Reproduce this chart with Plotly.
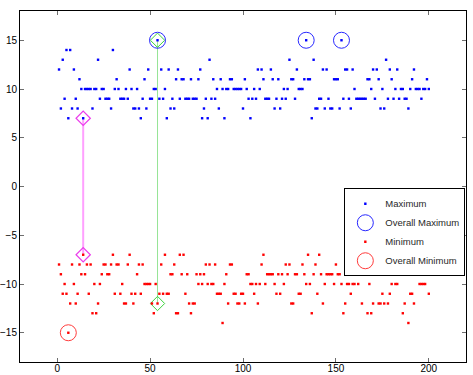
import plotly.graph_objects as go

# x positions 1..200
x_vals = list(range(1, 201))

max_vals = [
    12, 8, 13, 9, 14, 7, 14, 8, 12, 9,      # 1-10
    8, 11, 10, 7, 10, 10, 10, 10, 8, 10,    # 11-20
    10, 13, 9, 10, 10, 9, 9, 9, 8, 14,      # 21-30
    10, 11, 10, 9, 9, 9, 10, 9, 12, 10,     # 31-40
    8, 8, 10, 8, 7, 9, 11, 8, 12, 9,        # 41-50
    9, 10, 10, 15, 9, 12, 9, 10, 7, 12,     # 51-60
    8, 9, 8, 11, 12, 9, 11, 11, 9, 9,       # 61-70
    9, 11, 9, 9, 9, 11, 12, 7, 8, 9,        # 71-80
    7, 13, 9, 11, 9, 10, 8, 11, 10, 7,      # 81-90
    10, 10, 11, 11, 10, 10, 10, 10, 10, 8,  # 91-100
    11, 10, 9, 7, 9, 10, 9, 12, 10, 12,     # 101-110
    11, 9, 9, 9, 12, 11, 8, 9, 11, 8,       # 111-120
    9, 10, 9, 10, 13, 11, 11, 9, 12, 10,    # 121-130
    10, 10, 11, 15, 11, 11, 7, 13, 8, 8,    # 131-140
    9, 9, 12, 8, 12, 9, 8, 8, 11, 11,       # 141-150
    11, 8, 15, 9, 12, 12, 9, 8, 12, 10,     # 151-160
    9, 9, 9, 9, 9, 9, 11, 11, 10, 12,       # 161-170
    9, 12, 11, 8, 10, 8, 13, 9, 12, 11,     # 171-180
    9, 10, 12, 9, 10, 10, 9, 9, 8, 10,      # 181-190
    11, 12, 10, 10, 10, 9, 10, 10, 11, 10,  # 191-200
]

min_vals = [
    -8, -9, -11, -10, -11, -15, -12, -8, -10, -12,   # 1-10
    -11, -8, -9, -7, -9, -8, -11, -8, -13, -10,      # 11-20
    -13, -12, -10, -9, -8, -8, -9, -9, -8, -7,       # 21-30
    -11, -8, -8, -11, -10, -12, -12, -8, -7, -11,    # 31-40
    -12, -11, -9, -8, -11, -8, -10, -10, -10, -10,   # 41-50
    -12, -13, -10, -12, -11, -8, -11, -7, -11, -11,  # 51-60
    -9, -9, -8, -13, -13, -7, -9, -7, -11, -9,       # 61-70
    -12, -13, -12, -12, -9, -10, -9, -10, -9, -8,    # 71-80
    -10, -8, -10, -10, -8, -11, -11, -11, -14, -10,  # 81-90
    -9, -12, -8, -8, -11, -11, -12, -12, -11, -11,   # 91-100
    -12, -9, -9, -10, -10, -11, -10, -12, -10, -8,   # 101-110
    -7, -10, -9, -9, -9, -9, -10, -11, -9, -11,      # 111-120
    -9, -10, -8, -9, -8, -12, -12, -9, -9, -11,      # 121-130
    -11, -8, -9, -10, -7, -10, -13, -9, -8, -11,     # 131-140
    -7, -9, -12, -10, -9, -9, -9, -9, -10, -8,       # 141-150
    -9, -9, -10, -13, -12, -10, -10, -11, -10, -10,  # 151-160
    -8, -10, -9, -12, -9, -9, -13, -10, -13, -12,    # 161-170
    -8, -7, -12, -12, -11, -12, -9, -12, -11, -10,   # 171-180
    -7, -10, -10, -8, -7, -13, -12, -9, -14, -11,    # 181-190
    -11, -12, -9, -7, -10, -10, -10, -10, -7, -11,   # 191-200
]

overall_max_x = [54, 134, 153]
overall_max_y = [15, 15, 15]
overall_min_x = [6]
overall_min_y = [-15]

narrow_x = [14, 14]
narrow_y = [7, -7]
wide_x = [54, 54]
wide_y = [15, -12]

x_ticks = [0, 50, 100, 150, 200]
y_ticks = [-15, -10, -5, 0, 5, 10, 15]

fig = go.Figure()

fig.add_trace(go.Scatter(
    x=wide_x, y=wide_y, mode="lines+markers", showlegend=False,
    line=dict(color="rgb(150,228,150)", width=1),
    marker=dict(symbol="diamond-open", size=11, color="rgb(60,210,60)", line=dict(width=1)),
    hoverinfo="skip"))
fig.add_trace(go.Scatter(
    x=narrow_x, y=narrow_y, mode="lines+markers", showlegend=False,
    line=dict(color="rgb(255,160,255)", width=2),
    marker=dict(symbol="diamond-open", size=11, color="rgb(235,60,235)", line=dict(width=1.2)),
    hoverinfo="skip"))

fig.add_trace(go.Scatter(
    x=x_vals, y=max_vals, mode="markers", name="Maximum",
    marker=dict(symbol="square", size=2.4, color="rgb(0,0,255)")))
fig.add_trace(go.Scatter(
    x=overall_max_x, y=overall_max_y, mode="markers", name="Overall Maximum",
    marker=dict(symbol="circle-open", size=16, color="rgb(40,40,255)", line=dict(width=1))))
fig.add_trace(go.Scatter(
    x=x_vals, y=min_vals, mode="markers", name="Minimum",
    marker=dict(symbol="square", size=2.4, color="rgb(255,0,0)")))
fig.add_trace(go.Scatter(
    x=overall_min_x, y=overall_min_y, mode="markers", name="Overall Minimum",
    marker=dict(symbol="circle-open", size=16, color="rgb(255,60,60)", line=dict(width=1))))

axis_common = dict(
    showgrid=False, zeroline=False, showline=True, linecolor="black", linewidth=1,
    mirror="ticks", ticks="inside", ticklen=4, tickcolor="rgb(110,110,110)",
    automargin=False,
    tickfont=dict(family="Liberation Sans, Arial, sans-serif", size=10, color="black"),
)

fig.update_layout(
    width=473, height=375,
    margin=dict(l=20, r=7, t=11, b=13, pad=0),
    paper_bgcolor="white", plot_bgcolor="white",
    showlegend=True,
    legend=dict(
        x=0.9985, y=0.495, xanchor="right", yanchor="top",
        bgcolor="white", bordercolor="black", borderwidth=1,
        font=dict(family="Liberation Sans, Arial, sans-serif", size=9.5, color="rgb(40,40,40)"),
        itemsizing="trace", tracegroupgap=0, itemwidth=30,
    ),
    xaxis=dict(range=[-20, 220], tickvals=x_ticks, ticklabelstandoff=-3, **axis_common),
    yaxis=dict(range=[-18, 18], tickvals=y_ticks,
               ticktext=[str(v).replace("-", "\u2212") for v in y_ticks], **axis_common),
)

fig.write_html(
    "out.html",
    config={"displayModeBar": False},
    post_script="document.body.style.margin='0';document.body.style.padding='0';",
)
